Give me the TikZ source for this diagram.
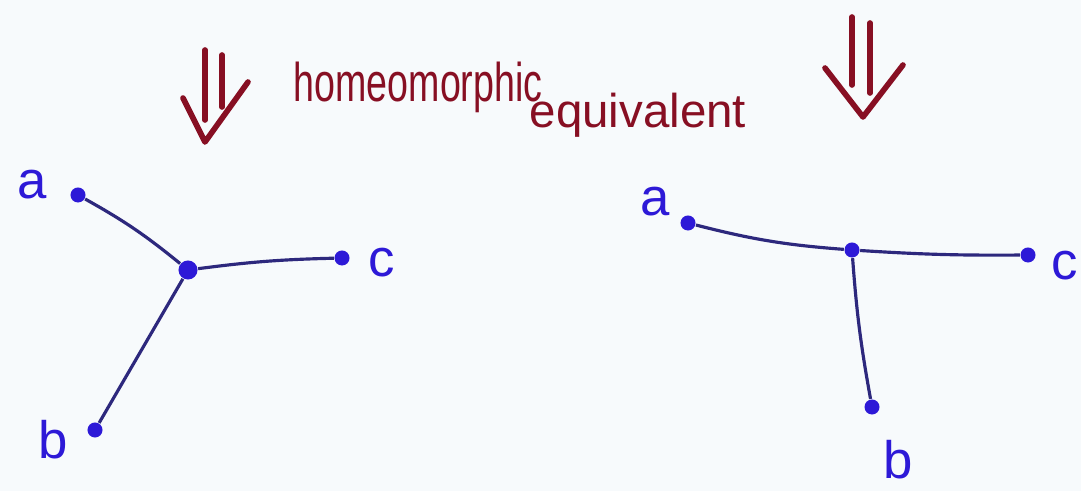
\documentclass[tikz,border=0pt]{standalone}
\usepackage{fontspec}
\usepackage{graphicx}
\newfontfamily\hand{Liberation Sans}
\definecolor{inkred}{RGB}{135,15,35}
\definecolor{inkblue}{RGB}{45,25,215}
\definecolor{inkline}{RGB}{45,40,125}
\definecolor{paper}{RGB}{247,250,252}
\begin{document}
\begin{tikzpicture}[x=0.01cm,y=-0.01cm,
  dot/.style={circle,fill=inkblue,draw=none,inner sep=0pt,minimum size=0.15cm},
  bigdot/.style={dot,minimum size=0.19cm},
  lbl/.style={text=inkblue,font=\hand\fontsize{15}{15}\selectfont,inner sep=0pt},
  edge/.style={draw=inkline,line width=0.9pt},
  arr/.style={draw=inkred,line width=1.6pt,line cap=round,line join=round},
  title/.style={text=inkred,inner sep=0pt,anchor=base west}]
\fill[paper] (0,0) rectangle (1081,491);
\useasboundingbox (0,0) rectangle (1081,491);
% double arrows
\draw[arr] (205,50) -- (205,120);
\draw[arr] (222,55) -- (222,107);
\draw[arr] (183,98) -- (205,142) -- (248,82);
\draw[arr] (852,17) -- (852,85);
\draw[arr] (870,23) -- (870,93);
\draw[arr] (825,68) -- (863,117) -- (903,65);
% titles
\node[title] (t1) at (293,102) {\scalebox{0.69}[1]{\hand\fontsize{15.5}{15.5}\selectfont homeomorphic}};
\node[title] (t2) at (529,128) {\hand\fontsize{13.5}{13.5}\selectfont equivalent};
% left graph
\node[dot] (La) at (78,195) {};
\node[bigdot] (Lm) at (188,270) {};
\node[dot] (Lc) at (342,258) {};
\node[dot] (Lb) at (95,430) {};
\node[lbl] (La') at (32,185) {a};
\node[lbl] (Lc') at (382,263) {c};
\node[lbl] (Lb') at (53,440) {b};
\draw[edge] (La) to[bend left=5] (Lm);
\draw[edge] (Lm) to[bend left=3] (Lc);
\draw[edge] (Lm) -- (Lb);
% right graph
\node[dot] (Ra) at (688,223) {};
\node[dot] (Rm) at (852,250) {};
\node[dot] (Rc) at (1028,255) {};
\node[dot] (Rb) at (872,407) {};
\node[lbl] (Ra') at (655,202) {a};
\node[lbl] (Rc') at (1065,266) {c};
\node[lbl] (Rb') at (898,460) {b};
\draw[edge] (Ra) to[bend right=5] (Rm);
\draw[edge] (Rm) to[bend right=2] (Rc);
\draw[edge] (Rm) to[bend right=3] (Rb);
\end{tikzpicture}
\end{document}
